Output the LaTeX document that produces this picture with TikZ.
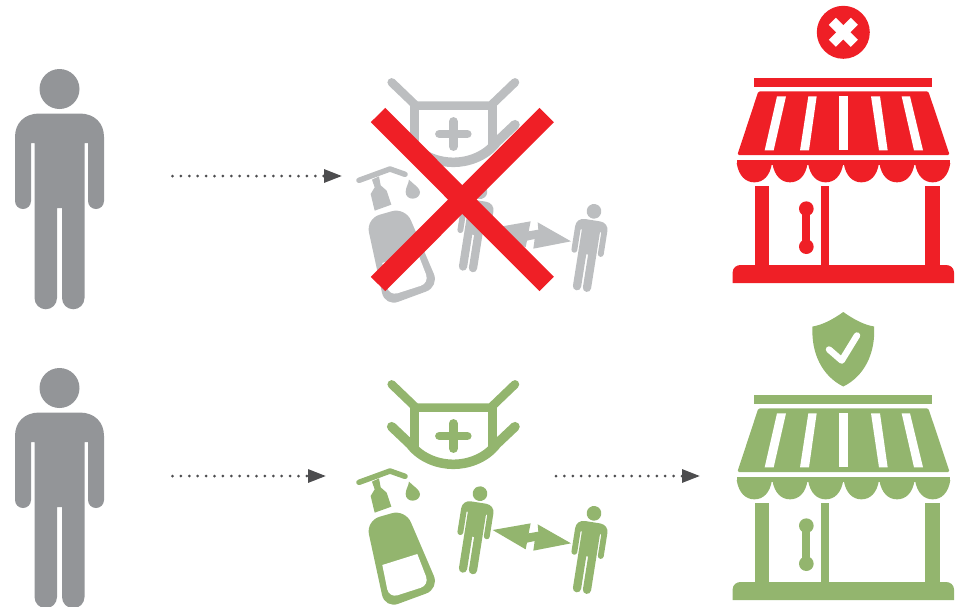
\documentclass[tikz,border=0pt]{standalone}
\usepackage{tikz}
\usetikzlibrary{arrows.meta}
\definecolor{persongray}{RGB}{147, 149, 152}
\definecolor{icongray}{RGB}{188, 190, 192}
\definecolor{signred}{RGB}{239, 31, 38}
\definecolor{safegreen}{RGB}{147, 181, 110}
\definecolor{arrowgray}{RGB}{77, 77, 79}
\newcommand{\personshape}{
  \fill (0,0) circle[radius=20];
  \fill (-20,24.5) -- (20,24.5) .. controls (35,24.5) and (44.5,34) .. (44.5,48) -- (44.5,112)
    arc[start angle=0, end angle=180, radius=8] -- (28.5,54) -- (25,54) -- (25,209)
    arc[start angle=0, end angle=180, radius=11.25] -- (2.5,119) -- (-2.5,119) -- (-2.5,209)
    arc[start angle=0, end angle=180, radius=11.25] -- (-25,54) -- (-28.5,54) -- (-28.5,112)
    arc[start angle=0, end angle=180, radius=8] -- (-44.5,48)
    .. controls (-44.5,34) and (-35,24.5) .. (-20,24.5) -- cycle;
}
\tikzset{
  flowarrow/.style={-{Triangle[length=18pt, width=13pt]}, arrowgray, line width=3pt, line cap=round, dash pattern=on 0pt off 8.4pt},
  strapline/.style={line width=8.5pt, line cap=round, line join=round},
  pics/person/.style={code={\personshape}},
  pics/measures/.style={code={
    \begin{scope}[scale=1/3]
      \draw[strapline] (155,43) -- (228,113) -- (452,113) -- (525,43);
      \draw[line width=9pt] (222,109) -- (222,232);
      \draw[line width=9pt] (458,109) -- (458,232);
      \draw[strapline, line width=9.5pt] (155,170) -- (210,222) .. controls (245,268) and (300,283) .. (340,283)
        .. controls (380,283) and (435,268) .. (470,222) -- (525,170);
      \draw[strapline] (298,198) -- (382,198);
      \draw[strapline] (340,160) -- (340,236);
      \draw[line width=5.5pt, line cap=round, line join=round] (57,337) -- (150,303) -- (195,319);
      \fill (96,335) -- (117,325) -- (122,352) -- (140,368) -- (154,410) -- (104,428) -- (92,378) -- (104,358) -- cycle;
      \fill (207,335) .. controls (205,350) and (197,358) .. (197,372) .. controls (197,385) and (207,392) .. (218,392)
        .. controls (232,392) and (240,382) .. (240,372) .. controls (240,360) and (222,350) .. (207,335) -- cycle;
      \fill[rounded corners=14pt] (78,452) -- (196,418) -- (298,656) -- (135,716) -- cycle;
      \fill[white] (127,585) -- (232,552) [rounded corners=9pt] -- (268,645) -- (147,684) [sharp corners] -- cycle;
      \fill (458,480) -- (572,460) -- (566,490) -- (595,485) -- (593,463) -- (693,520) -- (580,542) -- (584,513) -- (561,518) -- (557,538) -- cycle;
      \begin{scope}[shift={(420,371)}, rotate=-9, scale=1.1]
        \personshape
      \end{scope}
      \begin{scope}[shift={(762,430)}, rotate=-9, scale=1.1]
        \personshape
      \end{scope}
    \end{scope}
  }},
  pics/shop/.style={code={
    \begin{scope}[scale=1/3]
      \fill (102,285) rectangle (636,311);
      \fill[rounded corners=1.5pt] (115,325) -- (625,325) -- (689,516) -- (52,516) -- cycle;
      \fill[white] (171,340) -- (198,340) -- (161,502) -- (134,502) -- cycle;
      \fill[white] (265,340) -- (290,340) -- (267,502) -- (240,502) -- cycle;
      \fill[white] (358,340) rectangle (383,502);
      \fill[white] (453,340) -- (480,340) -- (503,502) -- (477,502) -- cycle;
      \fill[white] (545,340) -- (570,340) -- (609,502) -- (582,502) -- cycle;
      \fill (50,532) rectangle (690,545);
      \foreach \a in {50,157,264,371,478,585} {
        \fill (\a,540) .. controls (\a+6,580) and (\a+28,598) .. (\a+53,598)
          .. controls (\a+79,598) and (\a+100,580) .. (\a+106,540) -- cycle;
      }
      \fill (104,610) rectangle (148,850);
      \fill (304,610) rectangle (326,850);
      \fill (615,610) rectangle (659,850);
      \fill (38,900) -- (38,868) .. controls (38,854) and (50,846) .. (62,846) -- (678,846)
        .. controls (690,846) and (702,854) .. (702,868) -- (702,900) -- cycle;
      \fill (259,677) circle[radius=22];
      \fill (259,791) circle[radius=22];
      \fill (247,677) rectangle (271,791);
    \end{scope}
  }}
}
\begin{document}
\begin{tikzpicture}[x=1pt, y=-1pt]
    \useasboundingbox (0,0) rectangle (959,606);
    \clip (0,0) rectangle (959,606);
    \pic[persongray] (persontop) at (59.5,89) {person};
    \pic[persongray] (personbottom) at (59.5,388) {person};
    \pic[icongray] (measurestop) at (340,68) {measures};
    \pic[safegreen] (measuresbottom) at (340,370) {measures};
    \pic[signred] (shoptop) at (720,-17) {shop};
    \pic[safegreen] (shopbottom) at (720,300) {shop};
    \begin{scope}[shift={(340,70)}, scale=1/3]
      \draw[signred, line width=20.3pt] (114,135) -- (620,642);
      \draw[signred, line width=20.3pt] (620,135) -- (114,642);
    \end{scope}
    \node (refusal) [circle, fill=signred, minimum size=53pt, inner sep=0pt] at (843.3,32.3) {};
    \draw[white, line width=10pt] (832.3,21.3) -- (854.3,43.3);
    \draw[white, line width=10pt] (854.3,21.3) -- (832.3,43.3);
    \fill[safegreen] (843.3,312) .. controls (832,320) and (822,325) .. (812.5,326.5)
      .. controls (811,353) and (822,376) .. (843.3,386.5)
      .. controls (864.6,376) and (875.6,353) .. (874.1,326.5)
      .. controls (864.6,325) and (854.6,320) .. (843.3,312) -- cycle;
    \draw[white, line width=6.5pt, line cap=round, line join=round] (829,349.5) -- (841.7,360.5) -- (857,335.5);
    \coordinate (topstart) at (172.5,176);
    \coordinate (topend) at (342,176);
    \coordinate (bottomstart) at (172.5,476);
    \coordinate (bottommid) at (326,476);
    \coordinate (shopstart) at (556,476);
    \coordinate (shopend) at (700,476);
    \draw[flowarrow] (topstart) -- (topend);
    \draw[flowarrow] (bottomstart) -- (bottommid);
    \draw[flowarrow] (shopstart) -- (shopend);
\end{tikzpicture}
\end{document}
